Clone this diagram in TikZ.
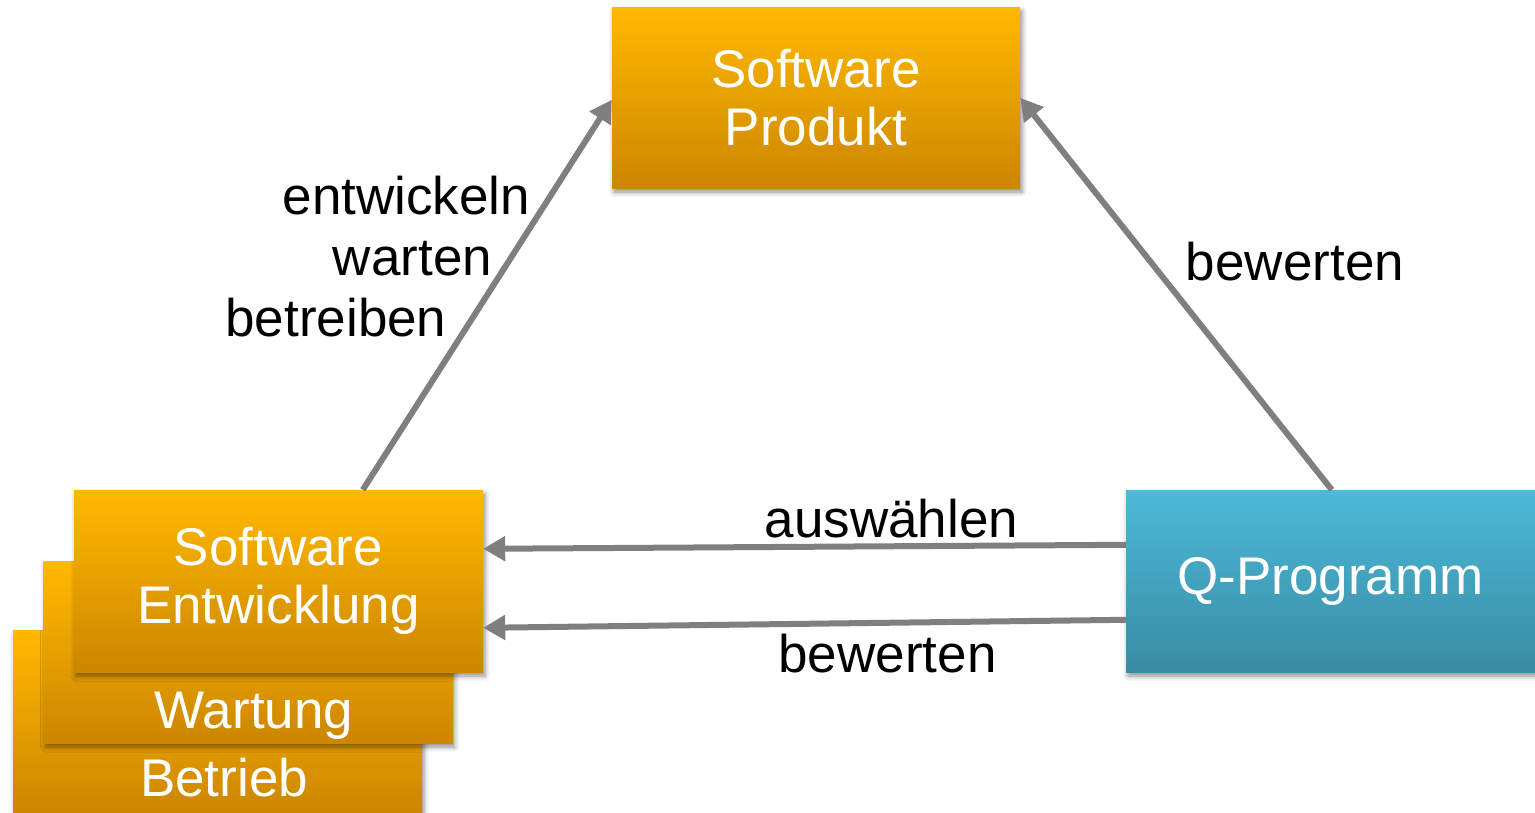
\documentclass[tikz,border=0pt]{standalone}
\usepackage{fontspec}
\setmainfont{Liberation Sans}
\usetikzlibrary{arrows.meta,calc,shadows.blur}
\definecolor{ortop}{RGB}{255,185,0}
\definecolor{orbot}{RGB}{204,134,0}
\definecolor{bltop}{RGB}{75,186,216}
\definecolor{blbot}{RGB}{58,139,164}
\definecolor{conngray}{RGB}{127,127,127}
\tikzset{
  box/.style={rectangle, inner sep=0pt, minimum width=409pt, minimum height=182pt,
    text=white, align=center, font=\fontsize{53}{57.5}\selectfont,
    blur shadow={shadow xshift=2pt, shadow yshift=-4pt, shadow blur radius=5pt, shadow opacity=45}},
  orangebox/.style={box, top color=ortop, bottom color=orbot},
  bluebox/.style={box, top color=bltop, bottom color=blbot},
  boxtext/.style={text=white, font=\fontsize{53}{57.5}\selectfont, inner sep=0pt, anchor=base},
  conn/.style={draw=conngray, line width=6pt, -{Triangle[length=22pt,width=24pt]}},
  lbl/.style={font=\fontsize{53}{57.5}\selectfont, inner sep=0pt, anchor=base},
}
\begin{document}
\begin{tikzpicture}[x=1pt,y=-1pt]
  \useasboundingbox (0,0) rectangle (1535,812);

  % stacked process boxes
  \node[orangebox] (betr) at (217.5,721) {};
  \node[boxtext] (betrtext) at (224,796) {Betrieb};
  \node[orangebox] (wart) at (248,652) {};
  \node[boxtext] (warttext) at (254,728) {Wartung};
  \node[orangebox] (ent) at (278.5,581) {Software\\Entwicklung};

  % product and quality programme
  \node[orangebox, minimum width=408pt, minimum height=181pt] (prod) at (816,97.5) {Software\\Produkt};
  \node[bluebox] (qp) at (1330.5,581) {Q-Programm};

  % connectors
  \draw[conn] ($(ent.north west)+(289,0)$) -- ($(prod.north west)+(0,93)$);
  \draw[conn] ($(qp.north west)+(206,0)$) -- ($(prod.north east)+(0,91)$);
  \draw[conn] ($(qp.north west)+(0,55)$) -- ($(ent.north east)+(0,59)$);
  \draw[conn] ($(qp.north west)+(0,130)$) -- ($(ent.north east)+(0,138)$);

  % labels
  \node[lbl] (l1) at (406.5,214) {entwickeln};
  \node[lbl] (l2) at (412.5,275) {warten};
  \node[lbl] (l3) at (336,336) {betreiben};
  \node[lbl] (l4) at (1295,280) {bewerten};
  \node[lbl] (l5) at (891.5,537) {auswählen};
  \node[lbl] (l6) at (887.5,672) {bewerten};
\end{tikzpicture}
\end{document}
